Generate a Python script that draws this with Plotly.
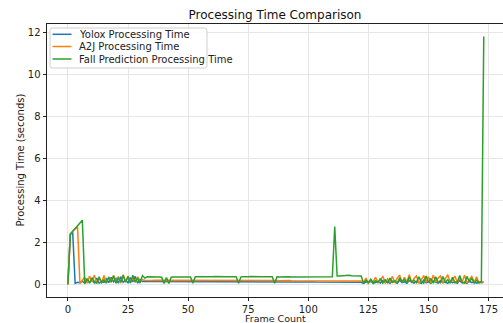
import plotly.graph_objects as go

frames = list(range(174))

yolox = [
    0, 2.40, 2.45, 0.05, 0.10, 0.08, 0.15, 0.06, 0.22, 0.10,
    0.18, 0.08, 0.30, 0.06, 0.14, 0.10, 0.26, 0.08, 0.34, 0.12,
    0.28, 0.06, 0.36, 0.10, 0.20, 0.08, 0.32, 0.12, 0.38, 0.06,
    0.24, 0.14, 0.14, 0.14, 0.15, 0.14, 0.15, 0.15, 0.14, 0.15,
    0.14, 0.15, 0.14, 0.14, 0.15, 0.14, 0.14, 0.15, 0.14, 0.14,
    0.14, 0.13, 0.14, 0.14, 0.13, 0.14, 0.14, 0.13, 0.14, 0.14,
    0.14, 0.15, 0.14, 0.14, 0.14, 0.13, 0.14, 0.13, 0.13, 0.14,
    0.13, 0.13, 0.14, 0.13, 0.13, 0.13, 0.14, 0.13, 0.13, 0.13,
    0.13, 0.12, 0.13, 0.12, 0.13, 0.12, 0.12, 0.13, 0.12, 0.12,
    0.12, 0.12, 0.12, 0.11, 0.12, 0.12, 0.11, 0.12, 0.11, 0.12,
    0.11, 0.11, 0.12, 0.11, 0.11, 0.11, 0.11, 0.12, 0.11, 0.11,
    0.11, 0.13, 0.11, 0.11, 0.11, 0.10, 0.11, 0.11, 0.11, 0.10,
    0.11, 0.11, 0.10, 0.05, 0.12, 0.07, 0.16, 0.05, 0.10, 0.14,
    0.06, 0.18, 0.08, 0.12, 0.05, 0.16, 0.10, 0.06, 0.20, 0.08,
    0.12, 0.05, 0.18, 0.10, 0.06, 0.14, 0.08, 0.05, 0.20, 0.07,
    0.12, 0.05, 0.16, 0.10, 0.06, 0.18, 0.08, 0.12, 0.05, 0.15,
    0.08, 0.12, 0.05, 0.18, 0.07, 0.10, 0.05, 0.16, 0.08, 0.12,
    0.06, 0.10, 0.08, 0.10,
]

a2j = [
    0, 2.40, 2.53, 2.66, 2.75, 0.04, 0.20, 0.34, 0.06, 0.40,
    0.12, 0.44, 0.06, 0.30, 0.10, 0.42, 0.08, 0.36, 0.12, 0.44,
    0.10, 0.38, 0.06, 0.46, 0.14, 0.40, 0.08, 0.32, 0.10, 0.36,
    0.12, 0.22, 0.20, 0.19, 0.20, 0.19, 0.20, 0.20, 0.19, 0.20,
    0.19, 0.20, 0.20, 0.19, 0.20, 0.20, 0.19, 0.20, 0.20, 0.20,
    0.19, 0.20, 0.19, 0.20, 0.20, 0.19, 0.20, 0.20, 0.21, 0.20,
    0.20, 0.21, 0.20, 0.20, 0.21, 0.20, 0.20, 0.19, 0.20, 0.20,
    0.19, 0.19, 0.20, 0.20, 0.19, 0.20, 0.20, 0.19, 0.20, 0.19,
    0.18, 0.19, 0.18, 0.18, 0.19, 0.18, 0.18, 0.18, 0.17, 0.18,
    0.18, 0.17, 0.18, 0.17, 0.17, 0.18, 0.17, 0.17, 0.18, 0.17,
    0.17, 0.17, 0.16, 0.17, 0.16, 0.17, 0.16, 0.16, 0.17, 0.16,
    0.16, 0.18, 0.16, 0.16, 0.17, 0.16, 0.16, 0.16, 0.17, 0.16,
    0.16, 0.16, 0.16, 0.10, 0.30, 0.06, 0.22, 0.12, 0.34, 0.08,
    0.18, 0.40, 0.06, 0.26, 0.12, 0.38, 0.08, 0.30, 0.44, 0.10,
    0.34, 0.12, 0.46, 0.08, 0.28, 0.40, 0.06, 0.22, 0.42, 0.10,
    0.36, 0.08, 0.44, 0.12, 0.30, 0.40, 0.06, 0.26, 0.46, 0.10,
    0.20, 0.40, 0.08, 0.30, 0.12, 0.44, 0.06, 0.24, 0.38, 0.10,
    0.36, 0.08, 0.12, 0.10,
]

fall = [
    0, 2.40, 2.53, 2.66, 2.79, 2.92, 3.06, 0.04, 0.28, 0.06,
    0.32, 0.10, 0.06, 0.36, 0.08, 0.22, 0.06, 0.34, 0.10, 0.40,
    0.06, 0.32, 0.12, 0.42, 0.10, 0.36, 0.06, 0.44, 0.12, 0.30,
    0.06, 0.42, 0.30, 0.36, 0.35, 0.35, 0.34, 0.35, 0.35, 0.34,
    0.05, 0.33, 0.05, 0.34, 0.35, 0.35, 0.34, 0.35, 0.35, 0.36,
    0.35, 0.35, 0.05, 0.36, 0.36, 0.35, 0.36, 0.36, 0.37, 0.36,
    0.37, 0.38, 0.37, 0.37, 0.38, 0.37, 0.36, 0.37, 0.37, 0.36,
    0.36, 0.05, 0.36, 0.37, 0.36, 0.37, 0.38, 0.37, 0.37, 0.36,
    0.37, 0.36, 0.37, 0.36, 0.36, 0.37, 0.05, 0.36, 0.35, 0.36,
    0.35, 0.35, 0.36, 0.35, 0.35, 0.34, 0.35, 0.35, 0.36, 0.35,
    0.35, 0.34, 0.35, 0.35, 0.34, 0.35, 0.35, 0.36, 0.35, 0.35,
    0.36, 2.75, 0.40, 0.40, 0.41, 0.40, 0.42, 0.44, 0.41, 0.40,
    0.40, 0.41, 0.40, 0.05, 0.20, 0.08, 0.25, 0.06, 0.18, 0.10,
    0.28, 0.06, 0.22, 0.08, 0.30, 0.10, 0.18, 0.06, 0.32, 0.12,
    0.24, 0.06, 0.35, 0.10, 0.20, 0.08, 0.36, 0.12, 0.06, 0.40,
    0.10, 0.28, 0.06, 0.36, 0.12, 0.08, 0.38, 0.10, 0.22, 0.06,
    0.34, 0.08, 0.12, 0.42, 0.10, 0.06, 0.38, 0.12, 0.30, 0.06,
    0.20, 0.08, 0.14, 11.80,
]

series_names = ["Yolox Processing Time", "A2J Processing Time",
                "Fall Prediction Processing Time"]
series_colors = ["#1f77b4", "#ff7f0e", "#2ca02c"]
x_ticks = [0, 25, 50, 75, 100, 125, 150, 175]
y_ticks = [0, 2, 4, 6, 8, 10, 12]

assert len(yolox) == len(frames) == len(a2j) == len(fall)

W, H = 503, 323
ML, MR, MT, MB = 47, 0, 24, 26
PW, PH = W - ML - MR, H - MT - MB


def px(x):
    return (x - ML) / PW


def py(y):
    return 1 - (y - MT) / PH


FONT = "DejaVu Sans"
fig = go.Figure()
for name, ys, col in zip(series_names, [yolox, a2j, fall], series_colors):
    fig.add_trace(go.Scatter(x=frames, y=ys, mode="lines", name=name,
                             line=dict(color=col, width=1.5), showlegend=False))

# legend box (drawn manually to match compact matplotlib legend)
bx0, bx1, by0, by1, r = 50, 207, 28, 68, 2.5
path = (f"M {px(bx0 + r)},{py(by0)} L {px(bx1 - r)},{py(by0)} "
        f"Q {px(bx1)},{py(by0)} {px(bx1)},{py(by0 + r)} "
        f"L {px(bx1)},{py(by1 - r)} Q {px(bx1)},{py(by1)} {px(bx1 - r)},{py(by1)} "
        f"L {px(bx0 + r)},{py(by1)} Q {px(bx0)},{py(by1)} {px(bx0)},{py(by1 - r)} "
        f"L {px(bx0)},{py(by0 + r)} Q {px(bx0)},{py(by0)} {px(bx0 + r)},{py(by0)} Z")
shapes = [dict(type="path", path=path, xref="paper", yref="paper",
               fillcolor="rgba(255,255,255,0.85)", line=dict(color="#d0d0d0", width=1),
               layer="above")]
annotations = []
row_y = [34.3, 46.5, 59.0]
for name, col, ry in zip(series_names, series_colors, row_y):
    shapes.append(dict(type="line", xref="paper", yref="paper",
                       x0=px(52.5), x1=px(71.5), y0=py(ry), y1=py(ry),
                       line=dict(color=col, width=1.5), layer="above"))
    annotations.append(dict(text=name, xref="paper", yref="paper", x=px(76.5),
                            y=py(ry), xanchor="left", yanchor="middle",
                            showarrow=False, font=dict(size=10, color="#222")))

annotations += [
    dict(text="Frame Count", xref="paper", yref="paper", x=0.5,
         y=py(318.7), xanchor="center", yanchor="middle", showarrow=False,
         font=dict(size=9.5, color="#222")),
    dict(text="Processing Time (seconds)", xref="paper", yref="paper",
         x=px(20), y=0.5, xanchor="center", yanchor="middle",
         textangle=-90, showarrow=False, font=dict(size=10, color="#222")),
]

fig.update_layout(
    width=W, height=H,
    margin=dict(l=ML, r=MR, t=MT, b=MB),
    paper_bgcolor="white", plot_bgcolor="white",
    font=dict(family=FONT, size=10, color="#222"),
    title=dict(text="Processing Time Comparison", x=0.5, xref="paper",
               y=1 - 15 / H, yref="container", yanchor="middle",
               xanchor="center", font=dict(size=12, color="#111")),
    showlegend=False,
    xaxis=dict(range=[-8.7, 181.0], tickvals=x_ticks, showgrid=True,
               gridcolor="#e6e6e6", gridwidth=1, zeroline=False,
               showline=True, linecolor="#222", linewidth=1, mirror=True,
               ticks="outside", ticklen=2.5, tickcolor="#222",
               tickfont=dict(size=10)),
    yaxis=dict(range=[-0.6, 12.4], tickvals=y_ticks, showgrid=True,
               gridcolor="#e6e6e6", gridwidth=1, zeroline=False,
               showline=True, linecolor="#222", linewidth=1, mirror=False,
               ticks="outside", ticklen=3.5, tickcolor="#222",
               tickfont=dict(size=10)),
    shapes=shapes,
    annotations=annotations,
)

fig.write_html("out.html")
